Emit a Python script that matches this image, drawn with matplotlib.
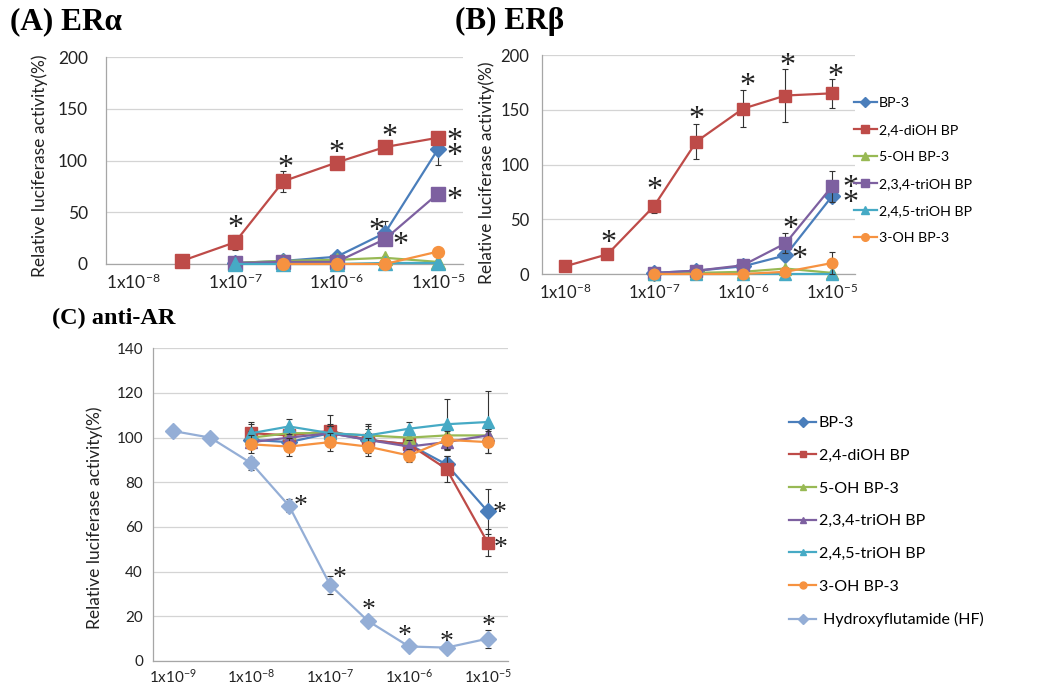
import numpy as np
import matplotlib
matplotlib.use('Agg')
import matplotlib.pyplot as plt
from matplotlib.lines import Line2D
from matplotlib.ticker import NullLocator, FixedLocator

plt.rcParams['font.family'] = ['Lato', 'DejaVu Sans']
plt.rcParams['mathtext.default'] = 'regular'

nan = np.nan

# ---------------- data ----------------
series_names = ['BP-3', '2,4-diOH BP', '5-OH BP-3', '2,3,4-triOH BP',
                '2,4,5-triOH BP', '3-OH BP-3']
hf_name = 'Hydroxyflutamide (HF)'

# (A) ER alpha
conc_a = [3e-8, 1e-7, 3e-7, 1e-6, 3e-6, 1e-5]
era_bp3 = [nan, 1, 3, 7, 30, 111]
era_diOH = [3, 21, 80, 98, 113, 122]
era_5OH = [nan, 1, 3, 4, 6, 2]
era_234 = [nan, 1, 2, 2, 24, 68]
era_245 = [nan, 0, 0, 0, 1, 1]
era_3OH = [nan, nan, 0, 0, 0, 12]
era_bp3_err = [nan, 1, 1, 2, 12, 15]
era_diOH_err = [1, 7, 10, 2, 3, 3]
era_5OH_err = [nan, 1, 1, 1, 2, 1]
era_234_err = [nan, 1, 1, 1, 4, 3]
era_245_err = [nan, 0, 0, 0, 0, 0]
era_3OH_err = [nan, nan, 1, 1, 1, 2]

# (B) ER beta
conc_b = [1e-8, 3e-8, 1e-7, 3e-7, 1e-6, 3e-6, 1e-5]
erb_bp3 = [nan, nan, 1, 3, 7, 17, 71]
erb_diOH = [7, 18, 62, 121, 151, 163, 165]
erb_5OH = [nan, nan, 0, 1, 2, 5, 1]
erb_234 = [nan, nan, 1, 3, 8, 28, 80]
erb_245 = [nan, nan, 0, 0, 0, 0, 0]
erb_3OH = [nan, nan, 0, 0, 0, 2, 10]
erb_bp3_err = [nan, nan, 1, 1, 1, 3, 4]
erb_diOH_err = [1, 3, 6, 16, 17, 24, 13]
erb_5OH_err = [nan, nan, 1, 1, 1, 1, 1]
erb_234_err = [nan, nan, 1, 1, 2, 9, 14]
erb_245_err = [nan, nan, 0, 0, 0, 0, 0]
erb_3OH_err = [nan, nan, 1, 1, 1, 1, 10]

# (C) anti-AR
conc_c = [1e-9, 3e-9, 1e-8, 3e-8, 1e-7, 3e-7, 1e-6, 3e-6, 1e-5]
ar_bp3 = [nan, nan, 99, 98, 102, 99, 97, 88, 67]
ar_diOH = [nan, nan, 102, 101, 103, 99, 97, 86, 53]
ar_5OH = [nan, nan, 100, 102, 102, 101, 100, 101, 101]
ar_234 = [nan, nan, 98, 100, 102, 99, 96, 98, 101]
ar_245 = [nan, nan, 102, 105, 102, 101, 104, 106, 107]
ar_3OH = [nan, nan, 97, 96, 98, 96, 92, 99, 98]
ar_hf = [103, 100, 88.5, 69.5, 34, 18, 6.5, 6, 10]
ar_bp3_err = [nan, nan, 2, 2, 3, 3, 2, 4, 10]
ar_diOH_err = [nan, nan, 5, 4, 7, 6, 3, 6, 6]
ar_5OH_err = [nan, nan, 3, 3, 3, 3, 3, 3, 3]
ar_234_err = [nan, nan, 3, 3, 3, 3, 3, 3, 3]
ar_245_err = [nan, nan, 4, 3.5, 4, 5, 3, 11.5, 14]
ar_3OH_err = [nan, nan, 4, 4, 4, 4, 3, 4, 5]
ar_hf_err = [1, 1, 3, 3, 4, 1, 1, 1, 4]

decades_ab = [1e-8, 1e-7, 1e-6, 1e-5]
xlabels_ab = ['1x10$^{-8}$', '1x10$^{-7}$', '1x10$^{-6}$', '1x10$^{-5}$']
decades_c = [1e-9, 1e-8, 1e-7, 1e-6, 1e-5]
xlabels_c = ['1x10$^{-9}$', '1x10$^{-8}$', '1x10$^{-7}$', '1x10$^{-6}$', '1x10$^{-5}$']

# significance marks: (series index, point index, dx px, dy px, count stacked)
# series 6 = HF; count 2 = two marks stacked (second one for the series just below)
stars_a = [(1, 1, 0, 22, 1), (1, 2, 2, 21, 1), (1, 3, 0, 18, 1), (1, 4, 4, 18, 1),
           (1, 5, 16, 5, 2), (3, 5, 16, 2, 1), (0, 4, -9, 10, 1), (3, 4, 15, 2, 1)]
stars_b = [(1, 1, 1, 19, 1), (1, 2, 0, 24, 1), (1, 3, 0, 30, 1), (1, 4, 4, 31, 1),
           (1, 5, 2, 37, 1), (1, 6, 3, 24, 1), (3, 6, 18, 6, 2), (3, 5, 5, 22, 1),
           (0, 5, 14, 4, 1)]
stars_c = [(6, 3, 12, 7, 1), (6, 4, 9, 14, 1), (6, 5, 1, 18, 1), (6, 6, -4, 17, 1),
           (6, 7, 0, 12, 1), (6, 8, 1, 20, 1), (0, 8, 12, 5, 1), (1, 8, 13, 2, 1)]

# ---------------- style ----------------
colors = ['#4A7EBB', '#BE4B48', '#98B954', '#7D60A0', '#46AAC5', '#F69240']
hf_color = '#94AED6'
markers_ab = ['D', 's', '^', 's', '^', 'o']
markers_c = ['D', 's', '^', '^', '^', 'o']
STACK_GAP = 15  # px between stacked marks

W, H = 1058, 684
fig = plt.figure(figsize=(W / 100, H / 100), dpi=100)


def px_axes(l, r, t, b):
    return fig.add_axes([l / W, 1 - b / H, (r - l) / W, (b - t) / H])


def style_axes(ax, ylim, yticks, xlim_log, decades, xlabels, tick_fs, ypad, xpad):
    ax.set_xscale('log')
    ax.set_xlim(10 ** xlim_log[0], 10 ** xlim_log[1])
    ax.set_ylim(*ylim)
    ax.set_yticks(yticks)
    ax.xaxis.set_major_locator(FixedLocator(decades))
    ax.set_xticklabels(xlabels)
    ax.xaxis.set_minor_locator(NullLocator())
    ax.grid(axis='y', color='#D4D4D4', lw=0.9, zorder=0)
    ax.set_axisbelow(True)
    for s in ['top', 'right']:
        ax.spines[s].set_visible(False)
    for s in ['left', 'bottom']:
        ax.spines[s].set_color('#A6A6A6')
        ax.spines[s].set_linewidth(0.9)
    ax.tick_params(axis='both', length=0, labelsize=tick_fs, colors='#222222')
    ax.tick_params(axis='y', pad=ypad)
    ax.tick_params(axis='x', pad=xpad)


def draw_series(ax, x, ys, errs, markers, cols, ms, lw):
    lines = []
    for i, (y, e) in enumerate(zip(ys, errs)):
        ya = np.array(y, dtype=float)
        ea = np.array(e, dtype=float)
        xa = np.array(x, dtype=float)
        ok = ~np.isnan(ya)
        ax.errorbar(xa[ok], ya[ok], yerr=np.nan_to_num(ea[ok]), fmt='none',
                    ecolor='#333333', elinewidth=0.8, capsize=2.5, capthick=0.8,
                    zorder=2 + 2 * i, clip_on=False)
        m = markers[i]
        msz = ms * 0.9 if m in ('D', 'o') else ms
        ln, = ax.plot(xa[ok], ya[ok], color=cols[i], marker=m, ms=msz, lw=lw,
                      mec=cols[i], mfc=cols[i], zorder=3 + 2 * i, clip_on=False)
        lines.append(ln)
    return lines


def draw_stars(ax, x, ys, stars, fs):
    for si, pi, dx, dy, n in stars:
        dy_eff = dy - (n - 1) * STACK_GAP
        ax.annotate('\n'.join(['*'] * n), xy=(x[pi], ys[si][pi]),
                    xytext=(dx * 0.72, dy_eff * 0.72 - 0.5 * fs),
                    textcoords='offset points', ha='center', va='baseline',
                    fontsize=fs, family='Liberation Serif', color='#222222',
                    linespacing=0.37, zorder=30, annotation_clip=False)


# ---------------- (A) ----------------
axA = px_axes(106, 463, 57, 264)
style_axes(axA, (0, 200), [0, 50, 100, 150, 200], (-8.271, -4.754),
           decades_ab, xlabels_ab, 12.5, 13, 6)
ys_a = [era_bp3, era_diOH, era_5OH, era_234, era_245, era_3OH]
errs_a = [era_bp3_err, era_diOH_err, era_5OH_err, era_234_err, era_245_err, era_3OH_err]
draw_series(axA, conc_a, ys_a, errs_a, markers_ab, colors, 9.5, 1.6)
draw_stars(axA, conc_a, ys_a, stars_a, 23)

# ---------------- (B) ----------------
axB = px_axes(541.7, 855, 55, 274)
style_axes(axB, (0, 200), [0, 50, 100, 150, 200], (-8.262, -4.742),
           decades_ab, xlabels_ab, 12, 9, 6)
ys_b = [erb_bp3, erb_diOH, erb_5OH, erb_234, erb_245, erb_3OH]
errs_b = [erb_bp3_err, erb_diOH_err, erb_5OH_err, erb_234_err, erb_245_err, erb_3OH_err]
draw_series(axB, conc_b, ys_b, errs_b, markers_ab, colors, 8.5, 1.6)
draw_stars(axB, conc_b, ys_b, stars_b, 23)

hb = [Line2D([], [], color=colors[i], marker=markers_ab[i], ms=5.5, lw=1.6)
      for i in range(6)]
fig.legend(hb, series_names, loc='upper left', bbox_to_anchor=(854 / W, 1 - 97 / H),
           frameon=False, fontsize=10.2, handlelength=1.6, handletextpad=0.15,
           labelspacing=1.06, borderpad=0, borderaxespad=0)

# ---------------- (C) ----------------
axC = px_axes(152.7, 508, 348.3, 661)
style_axes(axC, (0, 140), [0, 20, 40, 60, 80, 100, 120, 140], (-9.254, -4.742),
           decades_c, xlabels_c, 11, 7, 5)
ys_c = [ar_bp3, ar_diOH, ar_5OH, ar_234, ar_245, ar_3OH, ar_hf]
errs_c = [ar_bp3_err, ar_diOH_err, ar_5OH_err, ar_234_err, ar_245_err, ar_3OH_err, ar_hf_err]
draw_series(axC, conc_c, ys_c, errs_c, markers_c + ['D'], colors + [hf_color], 9, 1.6)
draw_stars(axC, conc_c, ys_c, stars_c, 20)

hc = [Line2D([], [], color=(colors + [hf_color])[i], marker=(markers_c + ['D'])[i],
             ms=5, lw=1.6) for i in range(7)]
fig.legend(hc, series_names + [' ' + hf_name], loc='upper left',
           bbox_to_anchor=(789 / W, 1 - 416 / H),
           frameon=False, fontsize=11.5, handlelength=1.7, handletextpad=0.15,
           labelspacing=1.16, borderpad=0, borderaxespad=0)

# ---------------- labels / titles ----------------
ylab = 'Relative luciferase activity(%)'
fig.text(40 / W, 1 - 166 / H, ylab, rotation=90, ha='center', va='center', fontsize=12.5,
         color='#222222')
fig.text(487 / W, 1 - 173 / H, ylab, rotation=90, ha='center', va='center', fontsize=12.5,
         color='#222222')
fig.text(95 / W, 1 - 518 / H, ylab, rotation=90, ha='center', va='center', fontsize=12.5,
         color='#222222')

tkw = dict(family='Liberation Serif', weight='bold', ha='left', va='center',
           color='black')
fig.text(10 / W, 1 - 22 / H, '(A) ERα', fontsize=22.5, **tkw)
fig.text(455 / W, 1 - 21 / H, '(B) ERβ', fontsize=22.5, **tkw)
fig.text(52 / W, 1 - 318 / H, '(C) anti-AR', fontsize=17.5, **tkw)

fig.savefig('out.png', dpi=100)
